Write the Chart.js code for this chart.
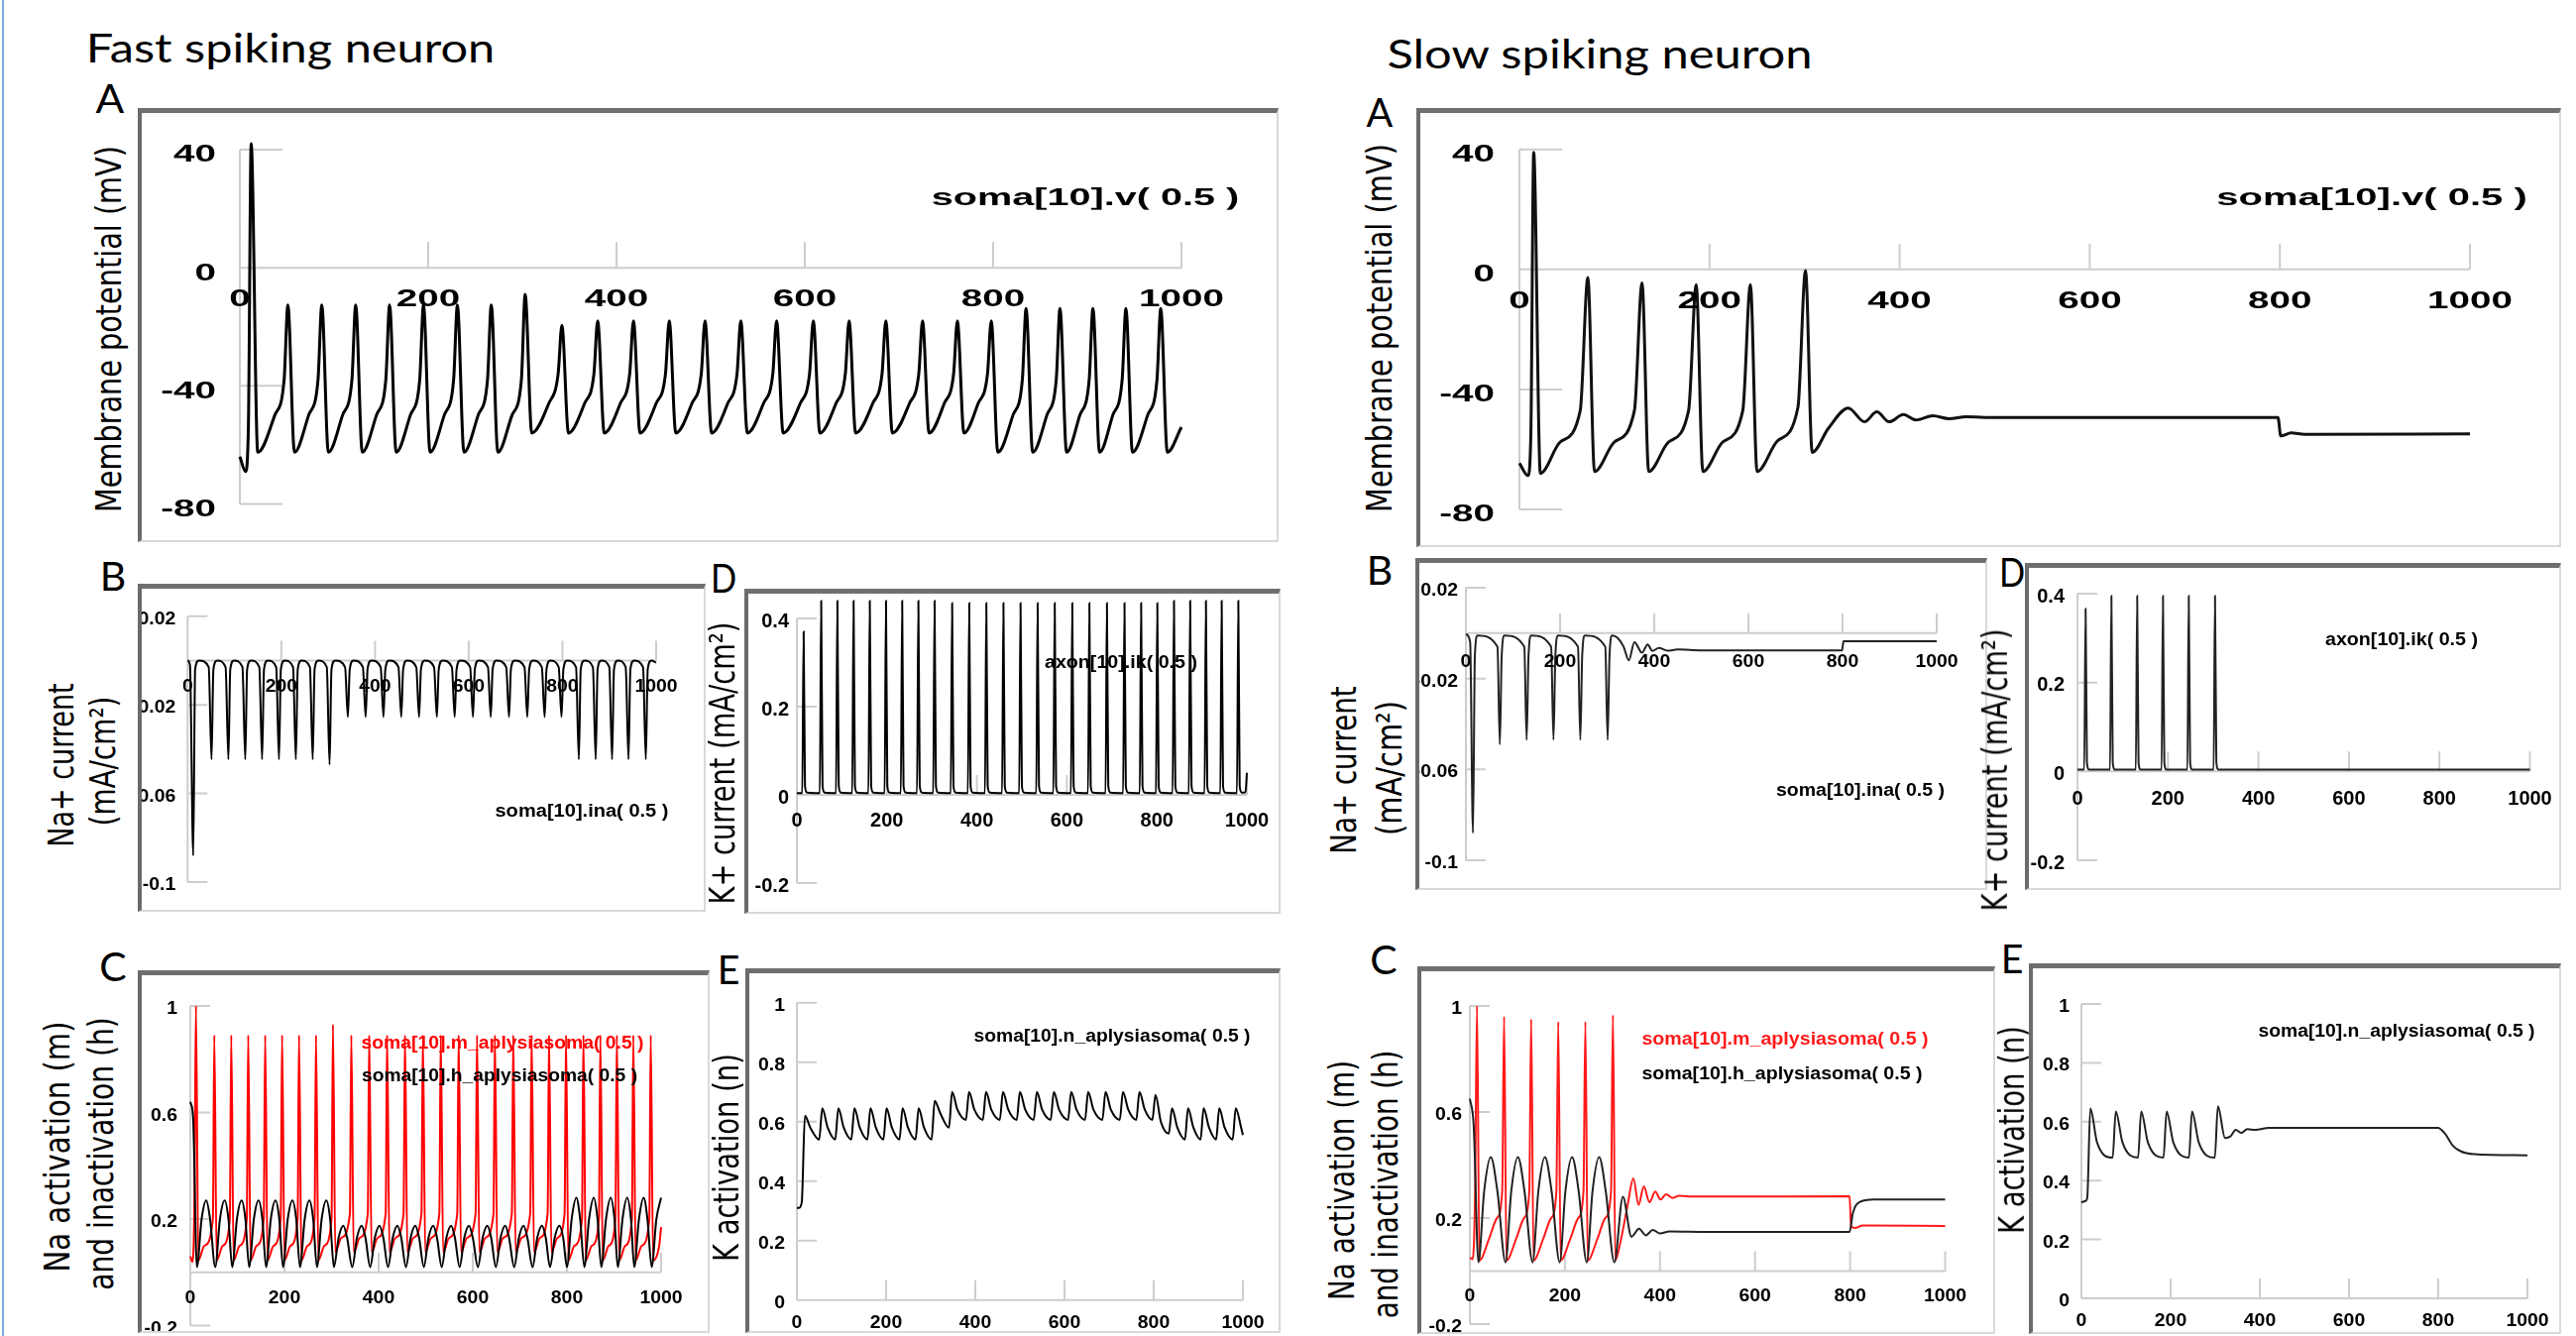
<!DOCTYPE html>
<html>
<head>
<meta charset="utf-8">
<title>Fast and slow spiking neuron</title>
<script src="https://cdn.jsdelivr.net/npm/chart.js@4.4.1/dist/chart.umd.min.js"></script>
<style>
  html, body { margin: 0; padding: 0; background: #fff; }
  #page { position: relative; width: 2599px; height: 1348px; overflow: hidden; background: #fff; }
  .edge { position: absolute; left: 2px; top: 0; width: 2px; height: 1348px; background: #7aa7de; }
  .frame { position: absolute; box-sizing: border-box; overflow: hidden;
           border-top: 5px solid #6f6f6f; border-left: 4px solid #6b6b6b;
           border-right: 2px solid #d9d9d9; border-bottom: 2px solid #d9d9d9; }
  .frame canvas { position: absolute; left: 0; top: 0; }
  .txt { position: absolute; white-space: nowrap; }
</style>
</head>
<body>
<div id="page"><div class="edge"></div></div>
<script>
// axis ticks
const timeTicks = [0, 200, 400, 600, 800, 1000];
const vTicks = [40, 0, -40, -80];
const inaTicks = [0.02, -0.02, -0.06, -0.1];
const ikTicks = [0.4, 0.2, 0, -0.2];
const mhTicks = [1, 0.6, 0.2, -0.2];
const nTicks = [1, 0.8, 0.6, 0.4, 0.2, 0];

// ---------- fast spiking neuron ----------
// spike times (ms)
const fastSpikeT = [12, 51, 87, 123, 159, 195, 231, 267, 303, 342, 380, 418, 456, 494,
  532, 570, 609, 647, 686, 725, 762, 798, 835, 871, 906, 941, 978];

// A: membrane potential, 14 ms / 4 ms before the peak, peak, 7 ms after
const fastVPhase = [-14, -4, 0, 7];
const fastVRiseA = [null,
  -50, -50, -50, -50, -50, -50, -50, -50,
  -46, -46, -46, -46, -46, -46, -46, -46, -46, -46, -46, -46, -46,
  -50, -50, -50, -50, -50];
const fastVRiseB = [null,
  -38, -38, -38, -38, -38, -38, -38, -38,
  -36, -36, -36, -36, -36, -36, -36, -36, -36, -36, -36, -36, -36,
  -38, -38, -38, -38, -38];
const fastVPeak = [42,
  -12.6, -12.6, -12.6, -12.6, -12.6, -12.6, -12.6,
  -9, -19.5,
  -18, -18, -18, -18, -18, -18, -18, -18, -18, -18, -18, -18,
  -13.8, -13.8, -13.8, -13.8, -13.8];
const fastVTrough = [
  -62.5, -62.5, -62.5, -62.5, -62.5, -62.5, -62.5, -62.5,
  -56, -56, -56, -56, -56, -56, -56, -56, -56, -56, -56, -56, -56,
  -62.5, -62.5, -62.5, -62.5, -62.5, -62.5];
const fastVHead = [[0, -64], [6, -69], [9, -55]];
const fastVTail = [[1000, -54]];

// B: Na+ current
const fastNaPhase = [-6, 0, 4, 12];
const fastNaPre = [null,
  -0.003, -0.003, -0.003, -0.003, -0.003, -0.003, -0.003, -0.003, -0.003, -0.003, -0.003, -0.003, -0.003,
  -0.003, -0.003, -0.003, -0.003, -0.003, -0.003, -0.003, -0.003, -0.003, -0.003, -0.003, -0.003, -0.003];
const fastNaDip = [-0.088,
  -0.0446, -0.0446, -0.0446, -0.0446, -0.0446, -0.0446, -0.0446,
  -0.047,
  -0.0255, -0.0255, -0.0255, -0.0255, -0.0255, -0.0255, -0.0255, -0.0255, -0.0255, -0.0255, -0.0255, -0.0255, -0.0255,
  -0.0446, -0.0446, -0.0446, -0.0446, -0.0446];
const fastNaPost = [
  -0.004, -0.004, -0.004, -0.004, -0.004, -0.004, -0.004, -0.004, -0.004, -0.004, -0.004, -0.004, -0.004, -0.004,
  -0.004, -0.004, -0.004, -0.004, -0.004, -0.004, -0.004, -0.004, -0.004, -0.004, -0.004, -0.004, -0.004];
const fastNaRest = [0, 0, 0, 0, 0, 0, 0, 0, 0, 0, 0, 0, 0, 0, 0, 0, 0, 0, 0, 0, 0, 0, 0, 0, 0, 0, 0];
const fastNaHead = [[0, 0], [5, -0.002]];
const fastNaTail = [[1000, -0.001]];

// D: K+ current
const fastKPhase = [0, 3, 6, 11];
const fastKPre = [0.004, 0.004, 0.004, 0.004, 0.004, 0.004, 0.004, 0.004, 0.004, 0.004, 0.004, 0.004, 0.004, 0.004,
  0.004, 0.004, 0.004, 0.004, 0.004, 0.004, 0.004, 0.004, 0.004, 0.004, 0.004, 0.004, 0.004];
const fastKPeak = [0.37,
  0.44, 0.44, 0.44, 0.44, 0.44, 0.44, 0.44, 0.44,
  0.435, 0.435, 0.435, 0.435, 0.435, 0.435, 0.435, 0.435, 0.435, 0.435, 0.435, 0.435, 0.435,
  0.44, 0.44, 0.44, 0.44, 0.44];
const fastKPost = [0.02, 0.02, 0.02, 0.02, 0.02, 0.02, 0.02, 0.02, 0.02, 0.02, 0.02, 0.02, 0.02, 0.02,
  0.02, 0.02, 0.02, 0.02, 0.02, 0.02, 0.02, 0.02, 0.02, 0.02, 0.02, 0.02, 0.02];
const fastKRest = [0.005, 0.005, 0.005, 0.005, 0.005, 0.005, 0.005, 0.005, 0.005, 0.005, 0.005, 0.005, 0.005, 0.005,
  0.005, 0.005, 0.005, 0.005, 0.005, 0.005, 0.005, 0.005, 0.005, 0.005, 0.005, 0.005, 0.005];
const fastKHead = [[0, 0.004]];
const fastKTail = [[997, 0.006], [1000, 0.05]];

// C: Na activation m (red)
const fastMPhase = [-3, 0, 5, 18];
const fastMPre = [0.3,
  0.2, 0.2, 0.2, 0.2, 0.2, 0.2, 0.2, 0.2,
  0.22, 0.22, 0.22, 0.22, 0.22, 0.22, 0.22, 0.22, 0.22, 0.22, 0.22, 0.22, 0.22,
  0.2, 0.2, 0.2, 0.2, 0.2];
const fastMPeak = [1.0,
  0.89, 0.89, 0.89, 0.89, 0.89, 0.89, 0.89,
  0.93,
  0.89, 0.89, 0.89, 0.89, 0.89, 0.89, 0.89, 0.89, 0.89, 0.89, 0.89, 0.89, 0.89,
  0.89, 0.89, 0.89, 0.89, 0.89];
const fastMPost = [
  0.045, 0.045, 0.045, 0.045, 0.045, 0.045, 0.045, 0.045,
  0.075, 0.075, 0.075, 0.075, 0.075, 0.075, 0.075, 0.075, 0.075, 0.075, 0.075, 0.075, 0.075,
  0.045, 0.045, 0.045, 0.045, 0.045, 0.045];
const fastMMid = [
  0.1, 0.1, 0.1, 0.1, 0.1, 0.1, 0.1, 0.1,
  0.13, 0.13, 0.13, 0.13, 0.13, 0.13, 0.13, 0.13, 0.13, 0.13, 0.13, 0.13, 0.13,
  0.1, 0.1, 0.1, 0.1, 0.1, 0.1];
const fastMHead = [[0, 0.06], [5, 0.04]];
const fastMTail = [[1000, 0.17]];

// C: Na inactivation h (black)
const fastHPhase = [2, 12, 22, 30];
const fastHLow = [0.02, 0.02, 0.02, 0.02, 0.02, 0.02, 0.02, 0.02, 0.02, 0.02, 0.02, 0.02, 0.02, 0.02,
  0.02, 0.02, 0.02, 0.02, 0.02, 0.02, 0.02, 0.02, 0.02, 0.02, 0.02, 0.02, 0.02];
const fastHMid = [
  0.2, 0.2, 0.2, 0.2, 0.2, 0.2, 0.2, 0.2,
  0.13, 0.13, 0.13, 0.13, 0.13, 0.13, 0.13, 0.13, 0.13, 0.13, 0.13, 0.13, 0.13,
  0.2, 0.2, 0.2, 0.2, 0.2, 0.2];
const fastHHigh = [
  0.27, 0.27, 0.27, 0.27, 0.27, 0.27, 0.27, 0.27,
  0.175, 0.175, 0.175, 0.175, 0.175, 0.175, 0.175, 0.175, 0.175, 0.175, 0.175, 0.175, 0.175,
  0.28, 0.28, 0.28, 0.28, 0.28, 0.28];
const fastHFall = [
  0.2, 0.2, 0.2, 0.2, 0.2, 0.2, 0.2, 0.2,
  0.13, 0.13, 0.13, 0.13, 0.13, 0.13, 0.13, 0.13, 0.13, 0.13, 0.13, 0.13, 0.13,
  0.2, 0.2, 0.2, 0.2, 0.2, null];
const fastHHead = [[0, 0.64], [6, 0.58]];
const fastHTail = [];

// E: K activation n
const fastNPhase = [-1, 6, 18];
const fastNLow = [0.33,
  0.54, 0.54, 0.54, 0.54, 0.54, 0.54, 0.54, 0.54,
  0.58,
  0.606, 0.606, 0.606, 0.606, 0.606, 0.606, 0.606, 0.606, 0.606, 0.606, 0.606, 0.606,
  0.56,
  0.54, 0.54, 0.54, 0.54];
const fastNHigh = [0.62,
  0.645, 0.645, 0.645, 0.645, 0.645, 0.645, 0.645,
  0.67,
  0.70, 0.70, 0.70, 0.70, 0.70, 0.70, 0.70, 0.70, 0.70, 0.70, 0.70, 0.70,
  0.69,
  0.645, 0.645, 0.645, 0.645, 0.645];
const fastNMid = [
  0.58, 0.58, 0.58, 0.58, 0.58, 0.58, 0.58, 0.58,
  0.63,
  0.64, 0.64, 0.64, 0.64, 0.64, 0.64, 0.64, 0.64, 0.64, 0.64, 0.64, 0.64,
  0.6,
  0.58, 0.58, 0.58, 0.58, 0.58];
const fastNHead = [[0, 0.31], [5, 0.31]];
const fastNTail = [[1000, 0.555]];

// ---------- slow spiking neuron ----------
const slowSpikeT = [15, 72, 129, 186, 243, 301];

const slowVPhase = [-29, -8, 0, 7];
const slowVRamp = [null, -57.5, -57.5, -57.5, -57.5, -57];
const slowVKnee = [null, -47, -47, -47, -47, -46];
const slowVPeak = [39, -2.7, -4.5, -5.1, -5.1, -0.4];
const slowVTrough = [-68, -67.4, -67.4, -67.4, -67.4, -61];
const slowVHead = [[0, -64.6], [9, -68.7], [12, -55]];
const slowVTail = [[325, -53], [346, -46.2], [363, -50.8], [376, -47.5], [389, -50.8], [404, -48.4],
  [417, -50.2], [435, -48.8], [452, -49.8], [470, -49.1], [500, -49.4], [798, -49.4],
  [801, -55.5], [812, -54.5], [826, -55], [1000, -54.8]];

const slowNaPhase = [-5, 0, 4, 10];
const slowNaPre = [null, -0.006, -0.006, -0.006, -0.006, -0.006];
const slowNaDip = [-0.088, -0.049, -0.047, -0.047, -0.047, -0.047];
const slowNaPost = [-0.01, -0.01, -0.01, -0.01, -0.01, -0.01];
const slowNaRest = [-0.001, -0.001, -0.001, -0.001, -0.001, -0.001];
const slowNaHead = [[0, -0.0005], [9, -0.004]];
const slowNaTail = [[322, -0.002], [335, -0.006], [346, -0.012], [358, -0.004], [374, -0.0086],
  [386, -0.005], [396, -0.0078], [410, -0.0065], [428, -0.0077], [450, -0.0072], [500, -0.0076],
  [799, -0.0076], [802, -0.0036], [1000, -0.0036]];

const slowKPhase = [0, 3, 6, 11];
const slowKPre = [0.004, 0.004, 0.004, 0.004, 0.004, 0.004];
const slowKPeak = [0.366, 0.395, 0.395, 0.395, 0.395, 0.395];
const slowKPost = [0.02, 0.02, 0.02, 0.02, 0.02, 0.02];
const slowKRest = [0.004, 0.004, 0.004, 0.004, 0.004, 0.004];
const slowKHead = [[0, 0.004]];
const slowKTail = [[1000, 0.004]];

const slowMPhase = [-4, 0, 5, 25, 42];
const slowMPre = [0.3, 0.3, 0.3, 0.3, 0.3, 0.3];
const slowMPeak = [1.0, 0.96, 0.95, 0.94, 0.94, 0.965];
const slowMPost = [0.04, 0.04, 0.04, 0.04, 0.04, 0.04];
const slowMMid = [0.12, 0.12, 0.12, 0.12, 0.12, null];
const slowMLate = [0.2, 0.2, 0.2, 0.2, 0.2, null];
const slowMHead = [[0, 0.05], [6, 0.045]];
const slowMTail = [[318, 0.12], [332, 0.25], [344, 0.35], [355, 0.25], [366, 0.32], [378, 0.26],
  [390, 0.3], [401, 0.27], [413, 0.29], [426, 0.276], [440, 0.284], [470, 0.281], [799, 0.282],
  [802, 0.17], [812, 0.163], [826, 0.172], [1000, 0.17]];

const slowHPhase = [3, 15, 29, 43];
const slowHLow = [0.033, 0.033, 0.033, 0.033, 0.033, 0.033];
const slowHRise = [0.3, 0.3, 0.3, 0.3, 0.3, null];
const slowHTop = [0.43, 0.43, 0.43, 0.43, 0.43, null];
const slowHFall = [0.3, 0.3, 0.3, 0.3, 0.3, null];
const slowHHead = [[0, 0.65], [8, 0.55]];
const slowHTail = [[322, 0.28], [340, 0.13], [356, 0.16], [370, 0.135], [385, 0.155], [400, 0.142],
  [420, 0.15], [500, 0.148], [799, 0.148], [806, 0.22], [820, 0.26], [850, 0.27], [1000, 0.27]];

const slowNPhase = [-2, 5, 20];
const slowNLow = [0.34, 0.478, 0.478, 0.478, 0.478, 0.478];
const slowNHigh = [0.646, 0.635, 0.635, 0.635, 0.635, 0.652];
const slowNDecay = [0.53, 0.53, 0.53, 0.53, 0.53, null];
const slowNHead = [[0, 0.326], [8, 0.33]];
const slowNTail = [[322, 0.545], [334, 0.55], [346, 0.572], [358, 0.562], [372, 0.575], [390, 0.572],
  [420, 0.579], [799, 0.579], [815, 0.56], [832, 0.52], [850, 0.5], [880, 0.49], [1000, 0.486]];

// join the per-spike readings into one time-sorted trace
function trace(spikeT, phase, phaseVals, head, tail) {
  const pts = head.slice();
  spikeT.forEach((t, i) => {
    phase.forEach((d, k) => {
      const v = phaseVals[k][i];
      if (v !== null) pts.push([t + d, v]);
    });
  });
  return pts.concat(tail).sort((a, b) => a[0] - b[0]).map(p => ({ x: p[0], y: p[1] }));
}

const fastV = trace(fastSpikeT, fastVPhase, [fastVRiseA, fastVRiseB, fastVPeak, fastVTrough], fastVHead, fastVTail);
const fastNa = trace(fastSpikeT, fastNaPhase, [fastNaPre, fastNaDip, fastNaPost, fastNaRest], fastNaHead, fastNaTail);
const fastK = trace(fastSpikeT, fastKPhase, [fastKPre, fastKPeak, fastKPost, fastKRest], fastKHead, fastKTail);
const fastM = trace(fastSpikeT, fastMPhase, [fastMPre, fastMPeak, fastMPost, fastMMid], fastMHead, fastMTail);
const fastH = trace(fastSpikeT, fastHPhase, [fastHLow, fastHMid, fastHHigh, fastHFall], fastHHead, fastHTail);
const fastN = trace(fastSpikeT, fastNPhase, [fastNLow, fastNHigh, fastNMid], fastNHead, fastNTail);

const slowV = trace(slowSpikeT, slowVPhase, [slowVRamp, slowVKnee, slowVPeak, slowVTrough], slowVHead, slowVTail);
const slowNa = trace(slowSpikeT, slowNaPhase, [slowNaPre, slowNaDip, slowNaPost, slowNaRest], slowNaHead, slowNaTail);
const slowK = trace(slowSpikeT, slowKPhase, [slowKPre, slowKPeak, slowKPost, slowKRest], slowKHead, slowKTail);
const slowM = trace(slowSpikeT, slowMPhase, [slowMPre, slowMPeak, slowMPost, slowMMid, slowMLate], slowMHead, slowMTail);
const slowH = trace(slowSpikeT, slowHPhase, [slowHLow, slowHRise, slowHTop, slowHFall], slowHHead, slowHTail);
const slowN = trace(slowSpikeT, slowNPhase, [slowNLow, slowNHigh, slowNDecay], slowNHead, slowNTail);

// NEURON style axes: grey axis lines at x=0 / y=0, short ticks, bold labels
const neuronAxes = {
  id: 'neuronAxes',
  beforeDatasetsDraw(chart, args, o) {
    const { ctx, scales: { x, y } } = chart;
    const xa = x.getPixelForValue(o.xTicks[0]);
    const xb = x.getPixelForValue(o.xTicks[o.xTicks.length - 1]);
    const y0 = y.getPixelForValue(0);
    const yHi = y.getPixelForValue(Math.max(...o.yTicks));
    const yLo = y.getPixelForValue(Math.min(...o.yTicks));
    ctx.save();
    ctx.strokeStyle = '#cdcdcd';
    ctx.lineWidth = o.axisWidth;
    ctx.beginPath();
    ctx.moveTo(xa, yLo); ctx.lineTo(xa, yHi);
    ctx.moveTo(xa, y0); ctx.lineTo(xb, y0);
    o.yTicks.forEach(v => {
      const p = y.getPixelForValue(v);
      ctx.moveTo(xa, p); ctx.lineTo(xa + o.yTickLen, p);
    });
    o.xTicks.slice(1).forEach(v => {
      const p = x.getPixelForValue(v);
      ctx.moveTo(p, y0); ctx.lineTo(p, y0 - o.xTickLen);
    });
    ctx.stroke();
    ctx.restore();
  },
  afterDatasetsDraw(chart, args, o) {
    const { ctx, scales: { x, y } } = chart;
    const xa = x.getPixelForValue(0), y0 = y.getPixelForValue(0);
    ctx.save();
    ctx.font = o.font;
    ctx.fillStyle = '#000';
    ctx.textBaseline = 'middle';
    const put = (s, px, py, align) => {
      ctx.save();
      ctx.translate(px, py);
      ctx.scale(o.sx, 1);
      ctx.textAlign = align;
      ctx.fillText(s, 0, 0);
      ctx.restore();
    };
    o.yTicks.forEach(v => put(String(v), xa - o.gap, y.getPixelForValue(v) + o.yLabDy, 'right'));
    o.xTicks.forEach(v => put(String(v), x.getPixelForValue(v), y0 + o.xLabDy, 'center'));
    ctx.restore();
  }
};

const bigAxes = { font: 'bold 23px "Liberation Sans"', sx: 1.68, gap: 24, yLabDy: 6, yTickLen: 43, xTickLen: 26, axisWidth: 2 };
const smallAxes = { font: 'bold 18.5px "Liberation Sans"', sx: 1.05, gap: 10, yLabDy: 3, yTickLen: 20, xTickLen: 20, axisWidth: 2 };

const panels = [
  { frame: [139, 109, 1290, 547], x0: 242, x1: 1192, yPx: [151, 508.5], yTicks: vTicks, lw: 3,
    axes: { ...bigAxes, xLabDy: 32 }, series: [[fastV, '#000']] },
  { frame: [139, 589, 712, 920], x0: 189.3, x1: 662, yPx: [621.7, 890], yTicks: inaTicks, lw: 2,
    axes: { ...smallAxes, gap: 12, xLabDy: 26 }, series: [[fastNa, '#000']] },
  { frame: [751, 594, 1292, 922], x0: 804, x1: 1258, yPx: [624, 891], yTicks: ikTicks, lw: 2,
    axes: { ...smallAxes, font: 'bold 20px "Liberation Sans"', sx: 1.0, gap: 8, xLabDy: 26 }, series: [[fastK, '#000']] },
  { frame: [139, 979, 716, 1345], x0: 192, x1: 667, yPx: [1015, 1337.5], yTicks: mhTicks, lw: 2,
    axes: { ...smallAxes, gap: 13, xLabDy: 26 }, series: [[fastH, '#000'], [fastM, '#ff0000']] },
  { frame: [752, 977, 1292, 1345], x0: 804, x1: 1254, yPx: [1011.7, 1311.7], yTicks: nTicks, lw: 2,
    axes: { ...smallAxes, gap: 12, xLabDy: 23 }, series: [[fastN, '#000']] },

  { frame: [1429, 109, 2584, 552], x0: 1533, x1: 2492, yPx: [150.7, 514], yTicks: vTicks, lw: 3,
    axes: { ...bigAxes, gap: 25, xLabDy: 33 }, series: [[slowV, '#111']] },
  { frame: [1428, 563, 2005, 898], x0: 1479, x1: 1954, yPx: [593, 868], yTicks: inaTicks, lw: 2,
    axes: { ...smallAxes, gap: 8, xLabDy: 29 }, series: [[slowNa, '#222']] },
  { frame: [2043, 568, 2584, 898], x0: 2096, x1: 2552.5, yPx: [599, 868], yTicks: ikTicks, lw: 2,
    axes: { ...smallAxes, font: 'bold 20px "Liberation Sans"', sx: 1.0, gap: 13, xLabDy: 28 }, series: [[slowK, '#222']] },
  { frame: [1430, 975, 2013, 1346], x0: 1483, x1: 1962.5, yPx: [1015, 1336], yTicks: mhTicks, lw: 2,
    axes: { ...smallAxes, gap: 8, xLabDy: 25 }, series: [[slowH, '#222'], [slowM, '#ff1a1a']] },
  { frame: [2047, 972, 2584, 1346], x0: 2100, x1: 2550, yPx: [1013, 1310], yTicks: nTicks, lw: 2,
    axes: { ...smallAxes, gap: 12, xLabDy: 23 }, series: [[slowN, '#222']] }
];

const page = document.getElementById('page');

panels.forEach(p => {
  const [l, t, r, b] = p.frame;
  const box = document.createElement('div');
  box.className = 'frame';
  box.style.left = l + 'px';
  box.style.top = t + 'px';
  box.style.width = (r - l) + 'px';
  box.style.height = (b - t) + 'px';
  page.appendChild(box);

  const cl = l + 4, ct = t + 5;
  const cw = r - l - 6, ch = b - t - 7;
  const cv = document.createElement('canvas');
  cv.width = cw;
  cv.height = ch;
  box.appendChild(cv);

  new Chart(cv, {
    type: 'line',
    data: {
      datasets: p.series.map(([pts, color]) => ({
        data: pts,
        borderColor: color,
        borderWidth: p.lw,
        pointRadius: 0,
        fill: false,
        cubicInterpolationMode: 'monotone',
        clip: false
      }))
    },
    options: {
      responsive: false,
      animation: false,
      devicePixelRatio: 1,
      events: [],
      layout: {
        padding: {
          left: p.x0 - cl,
          right: cl + cw - p.x1,
          top: p.yPx[0] - ct,
          bottom: ct + ch - p.yPx[1]
        }
      },
      plugins: {
        legend: { display: false },
        tooltip: { enabled: false },
        neuronAxes: { ...p.axes, xTicks: timeTicks, yTicks: p.yTicks }
      },
      scales: {
        x: { type: 'linear', min: 0, max: 1000, display: false },
        y: { type: 'linear', min: Math.min(...p.yTicks), max: Math.max(...p.yTicks), display: false }
      }
    },
    plugins: [neuronAxes]
  });
});

// text: [string, centre x, centre y, length, font, extra]
function addText(str, cx, cy, len, font, extra) {
  const o = extra || {};
  const el = document.createElement('div');
  el.className = 'txt';
  el.textContent = str;
  el.style.font = font;
  el.style.lineHeight = '1';
  el.style.color = o.color || '#000';
  el.style.left = cx + 'px';
  el.style.top = cy + 'px';
  page.appendChild(el);
  const s = len / el.offsetWidth;
  el.style.transform = o.rot
    ? `translate(-50%, -50%) rotate(-90deg) scale(${s}, ${o.thick || 1})`
    : `translate(-50%, -50%) scale(${s}, 1)`;
}

const titleFont = '40px Lato';
const letterFont = '41px Lato';
const yTitleFont = '27px "DejaVu Sans"';
const rot = { rot: true, thick: 1.3 };
const bigLab = 'bold 23px "Liberation Sans"';
const smallLab = 'bold 18px "Liberation Sans"';

document.fonts.ready.then(() => {
  addText('Fast spiking neuron', 293, 48, 413, titleFont);
  addText('Slow spiking neuron', 1614, 54, 429, titleFont);

  addText('A', 111, 98, 29, letterFont);
  addText('B', 114, 580, 27, letterFont);
  addText('D', 730, 582, 26, letterFont);
  addText('C', 114, 974, 27, letterFont);
  addText('E', 735, 977, 23, letterFont);
  addText('A', 1392, 112, 27, letterFont);
  addText('B', 1392, 574, 27, letterFont);
  addText('D', 2030, 576, 26, letterFont);
  addText('C', 1396, 967, 27, letterFont);
  addText('E', 2030, 966, 23, letterFont);

  addText('Membrane potential (mV)', 110, 332, 370, yTitleFont, rot);
  addText('Membrane potential (mV)', 1392, 331, 372, yTitleFont, rot);
  addText('Na+ current', 62, 772, 165, yTitleFont, rot);
  addText('(mA/cm²)', 104, 768, 131, yTitleFont, rot);
  addText('Na+ current', 1356, 777, 169, yTitleFont, rot);
  addText('(mA/cm²)', 1402, 775, 136, yTitleFont, rot);
  addText('K+ current (mA/cm²)', 729, 770, 285, yTitleFont, rot);
  addText('K+ current (mA/cm²)', 2012, 777, 285, yTitleFont, rot);
  addText('Na activation (m)', 58, 1157, 253, yTitleFont, rot);
  addText('and inactivation (h)', 102, 1164, 275, yTitleFont, rot);
  addText('Na activation (m)', 1354, 1191, 242, yTitleFont, rot);
  addText('and inactivation (h)', 1398, 1195, 270, yTitleFont, rot);
  addText('K activation (n)', 733, 1168, 210, yTitleFont, rot);
  addText('K activation (n)', 2029, 1140, 210, yTitleFont, rot);

  addText('soma[10].v( 0.5 )', 1095, 199, 310, bigLab);
  addText('soma[10].v( 0.5 )', 2393, 199, 313, bigLab);
  addText('soma[10].ina( 0.5 )', 587, 818, 175, smallLab);
  addText('soma[10].ina( 0.5 )', 1877, 797, 170, smallLab);
  addText('axon[10].ik( 0.5 )', 1131, 668, 154, smallLab);
  addText('axon[10].ik( 0.5 )', 2423, 645, 154, smallLab);
  addText('soma[10].m_aplysiasoma( 0.5 )', 507, 1052, 285, smallLab, { color: '#ff0000' });
  addText('soma[10].h_aplysiasoma( 0.5 )', 504, 1085, 278, smallLab);
  addText('soma[10].m_aplysiasoma( 0.5 )', 1801, 1048, 289, smallLab, { color: '#ff1a1a' });
  addText('soma[10].h_aplysiasoma( 0.5 )', 1798, 1083, 283, smallLab);
  addText('soma[10].n_aplysiasoma( 0.5 )', 1122, 1045, 279, smallLab);
  addText('soma[10].n_aplysiasoma( 0.5 )', 2418, 1040, 279, smallLab);
});
</script>
</body>
</html>
